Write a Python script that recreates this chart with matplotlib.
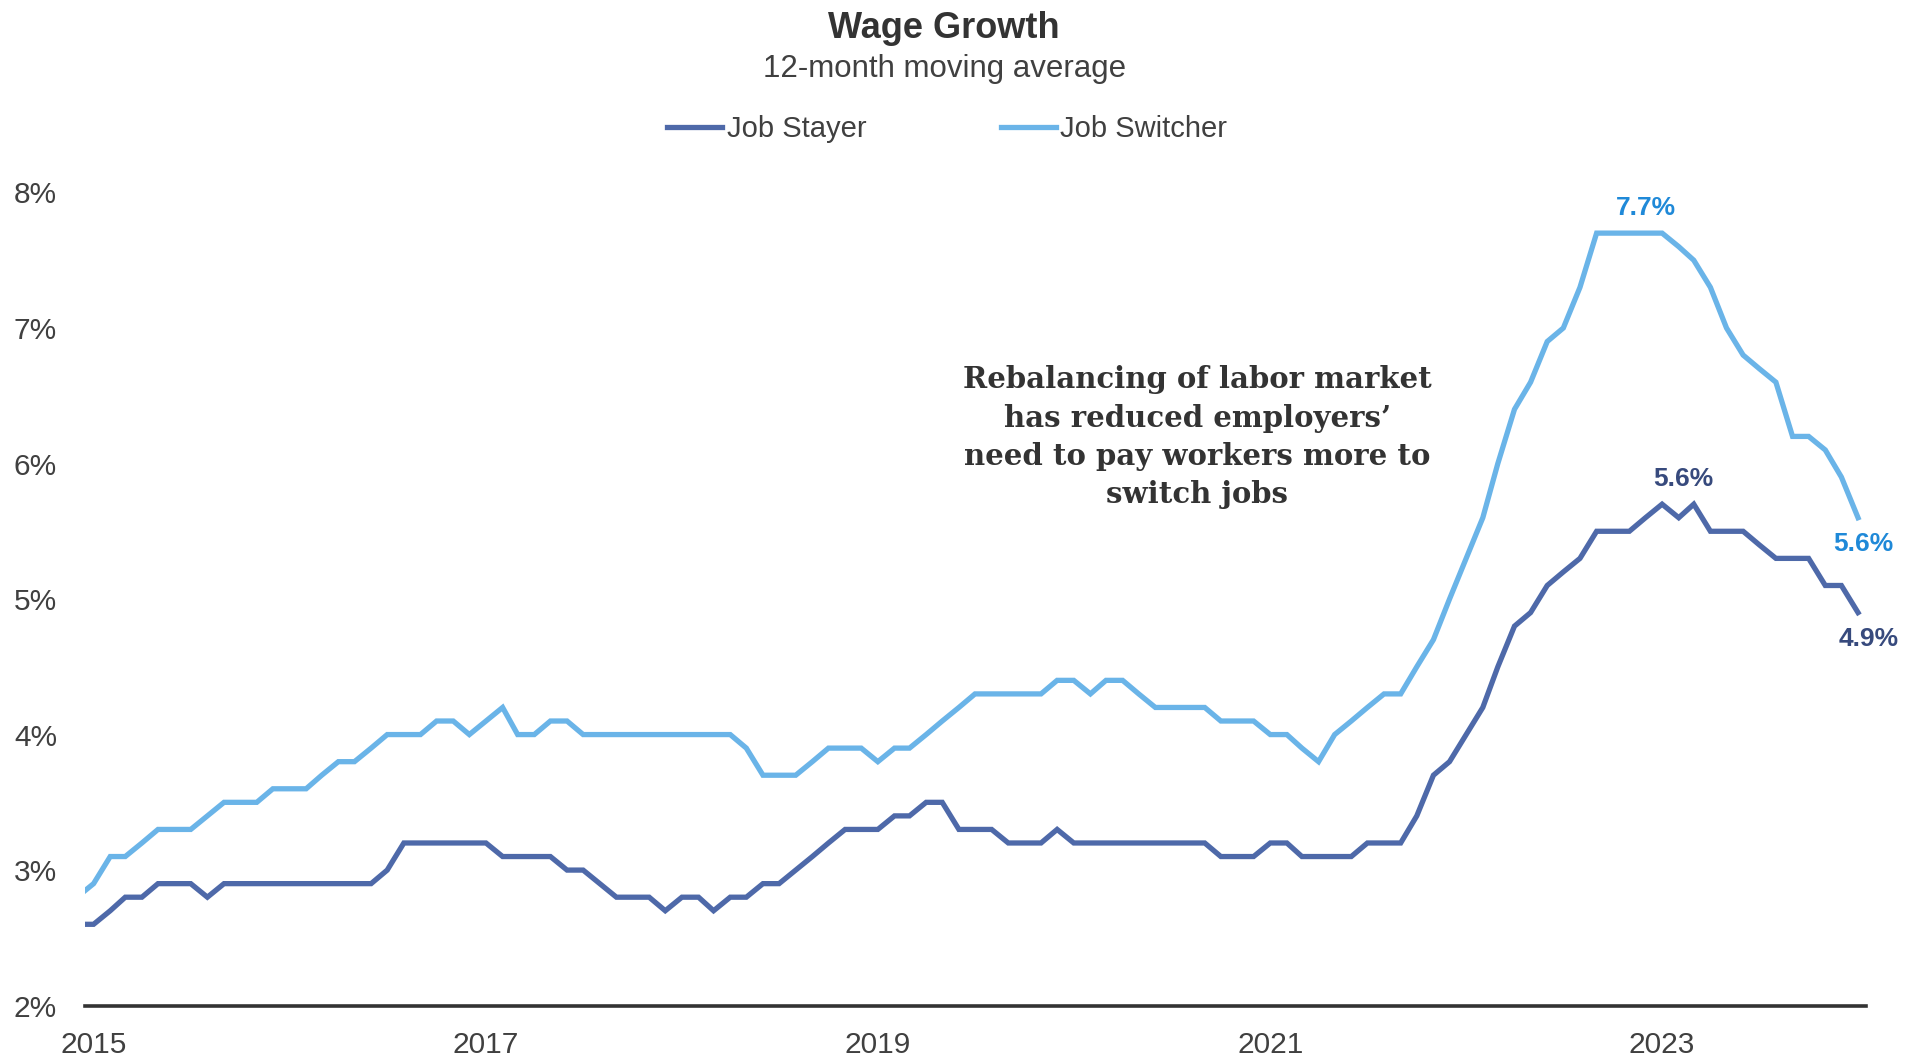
import matplotlib
matplotlib.use('Agg')
import matplotlib.pyplot as plt
import matplotlib.dates as mdates
import pandas as pd

# 月次データ（12か月移動平均, %）。2014年12月〜2024年1月
months = pd.date_range('2014-12-01', '2024-01-01', freq='MS')

job_stayer = [
	2.6,
	2.6, 2.7, 2.8, 2.8, 2.9, 2.9, 2.9, 2.8, 2.9, 2.9, 2.9, 2.9,   # 2015
	2.9, 2.9, 2.9, 2.9, 2.9, 2.9, 3.0, 3.2, 3.2, 3.2, 3.2, 3.2,   # 2016
	3.2, 3.1, 3.1, 3.1, 3.1, 3.0, 3.0, 2.9, 2.8, 2.8, 2.8, 2.7,   # 2017
	2.8, 2.8, 2.7, 2.8, 2.8, 2.9, 2.9, 3.0, 3.1, 3.2, 3.3, 3.3,   # 2018
	3.3, 3.4, 3.4, 3.5, 3.5, 3.3, 3.3, 3.3, 3.2, 3.2, 3.2, 3.3,   # 2019
	3.2, 3.2, 3.2, 3.2, 3.2, 3.2, 3.2, 3.2, 3.2, 3.1, 3.1, 3.1,   # 2020
	3.2, 3.2, 3.1, 3.1, 3.1, 3.1, 3.2, 3.2, 3.2, 3.4, 3.7, 3.8,   # 2021
	4.0, 4.2, 4.5, 4.8, 4.9, 5.1, 5.2, 5.3, 5.5, 5.5, 5.5, 5.6,   # 2022
	5.7, 5.6, 5.7, 5.5, 5.5, 5.5, 5.4, 5.3, 5.3, 5.3, 5.1, 5.1,   # 2023
	4.9,                                                          # 2024
]

job_switcher = [
	2.8,
	2.9, 3.1, 3.1, 3.2, 3.3, 3.3, 3.3, 3.4, 3.5, 3.5, 3.5, 3.6,   # 2015
	3.6, 3.6, 3.7, 3.8, 3.8, 3.9, 4.0, 4.0, 4.0, 4.1, 4.1, 4.0,   # 2016
	4.1, 4.2, 4.0, 4.0, 4.1, 4.1, 4.0, 4.0, 4.0, 4.0, 4.0, 4.0,   # 2017
	4.0, 4.0, 4.0, 4.0, 3.9, 3.7, 3.7, 3.7, 3.8, 3.9, 3.9, 3.9,   # 2018
	3.8, 3.9, 3.9, 4.0, 4.1, 4.2, 4.3, 4.3, 4.3, 4.3, 4.3, 4.4,   # 2019
	4.4, 4.3, 4.4, 4.4, 4.3, 4.2, 4.2, 4.2, 4.2, 4.1, 4.1, 4.1,   # 2020
	4.0, 4.0, 3.9, 3.8, 4.0, 4.1, 4.2, 4.3, 4.3, 4.5, 4.7, 5.0,   # 2021
	5.3, 5.6, 6.0, 6.4, 6.6, 6.9, 7.0, 7.3, 7.7, 7.7, 7.7, 7.7,   # 2022
	7.7, 7.6, 7.5, 7.3, 7.0, 6.8, 6.7, 6.6, 6.2, 6.2, 6.1, 5.9,   # 2023
	5.6,                                                          # 2024
]

series_names = ['Job Stayer', 'Job Switcher']
tick_years = [2015, 2017, 2019, 2021, 2023]
y_ticks = [2, 3, 4, 5, 6, 7, 8]

# 色
c_stayer = '#4E69A9'
c_switcher = '#6AB4E8'
c_stayer_lbl = '#374A7D'
c_switcher_lbl = '#1F89D8'
c_text = '#404040'

plt.rcParams['font.family'] = ['Liberation Sans', 'DejaVu Sans']

fig = plt.figure(figsize=(19.23, 10.61), dpi=100)
ax = fig.add_axes([0.0442, 0.0522, 0.9262, 0.7664])

ax.plot(months, job_stayer, color=c_stayer, lw=3.8, label=series_names[0],
	solid_joinstyle='miter')
ax.plot(months, job_switcher, color=c_switcher, lw=3.8, label=series_names[1],
	solid_joinstyle='miter')

# 軸範囲（左右に半月の余白）
ax.set_xlim(pd.Timestamp('2014-12-16'), pd.Timestamp('2024-01-16'))
ax.set_ylim(2, 8)

ax.set_xticks([pd.Timestamp(f'{y}-01-01') for y in tick_years])
ax.xaxis.set_major_formatter(mdates.DateFormatter('%Y'))
ax.set_yticks(y_ticks)
ax.set_yticklabels([f'{v}%' for v in y_ticks])
ax.tick_params(axis='both', length=0, labelsize=21.5, colors=c_text)
ax.tick_params(axis='x', pad=18.5)
ax.tick_params(axis='y', pad=20)

for side in ['top', 'right', 'left']:
	ax.spines[side].set_visible(False)
ax.spines['bottom'].set_color('#333333')
ax.spines['bottom'].set_linewidth(2.6)

# データラベル
lbl = dict(textcoords='offset points', ha='center', va='center',
	fontsize=19, fontweight='bold')
i_peak_sw = job_switcher.index(max(job_switcher)) + 3
ax.annotate('7.7%', xy=(months[i_peak_sw], job_switcher[i_peak_sw]),
	xytext=(0, 18), color=c_switcher_lbl, **lbl)
ax.annotate('5.6%', xy=(months[98], job_stayer[98]),
	xytext=(3, 28), color=c_stayer_lbl, **lbl)
ax.annotate('5.6%', xy=(months[-1], job_switcher[-1]),
	xytext=(4, -19), color=c_switcher_lbl, **lbl)
ax.annotate('4.9%', xy=(months[-1], job_stayer[-1]),
	xytext=(8, -19), color=c_stayer_lbl, **lbl)

# 注釈
fig.text(0.6225, 0.588,
	'Rebalancing of labor market\nhas reduced employers’\n'
	'need to pay workers more to\nswitch jobs',
	ha='center', va='center', multialignment='center',
	family='DejaVu Serif', fontweight='bold', fontsize=21,
	color='#333333', linespacing=1.4)

# タイトル
fig.text(0.491, 1 - 28.5 / 1061, 'Wage Growth', ha='center', va='center',
	fontsize=26, fontweight='bold', color='#333333')
fig.text(0.491, 1 - 69 / 1061, '12-month moving average', ha='center',
	va='center', fontsize=22.5, color=c_text)

# 凡例
fig.legend(loc='center left', bbox_to_anchor=(667 / 1923, 1 - 129 / 1061),
	ncol=2, frameon=False, fontsize=21, borderpad=0, borderaxespad=0,
	handlelength=1.9, handletextpad=0.15, columnspacing=4.6,
	labelcolor=c_text)

fig.savefig('out.png', dpi=100)
